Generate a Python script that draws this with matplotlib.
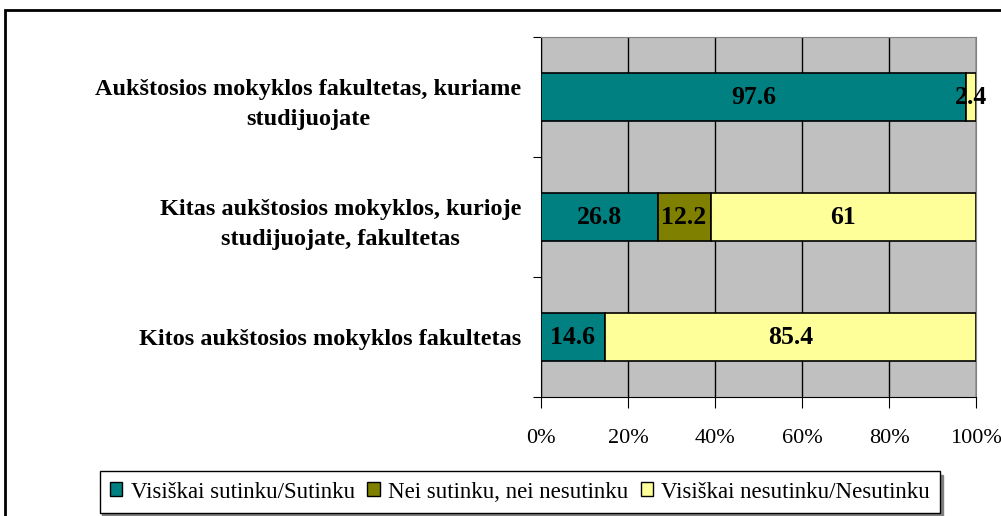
import matplotlib.pyplot as plt
import matplotlib.patches as mpatches
import numpy as np

# Data
categories = ['Aukštosios mokyklos fakultetas, kuriame\nstudijuojate',
              'Kitas aukštosios mokyklos, kurioje\nstudijuojate, fakultetas',
              'Kitos aukštosios mokyklos fakultetas']
agree = [97.6, 26.8, 14.6]
neutral = [0, 12.2, 0]
disagree = [2.4, 61, 85.4]
series_names = ['Visiškai sutinku/Sutinku', 'Nei sutinku, nei nesutinku',
                'Visiškai nesutinku/Nesutinku']
colors = ['#008080', '#808000', '#FFFF99']
xticks = [0, 20, 40, 60, 80, 100]

plt.rcParams['font.family'] = ['Liberation Serif', 'DejaVu Serif']

fig = plt.figure(figsize=(10.01, 5.16), dpi=100)
ax = fig.add_axes([541 / 1001, 119 / 516, 435 / 1001, 360 / 516])
ax.set_facecolor('#C0C0C0')

# figure border (extends past right/bottom edge)
fig.patches.append(mpatches.Rectangle((5 / 1001, -0.1), 1.2, 1 - 10 / 516 + 0.1,
                                      transform=fig.transFigure, fill=False,
                                      edgecolor='black', linewidth=2))

y = np.arange(len(categories))
values = [agree, neutral, disagree]
left = np.zeros(len(categories))
for vals, name, col in zip(values, series_names, colors):
    vals = np.array(vals, dtype=float)
    ax.barh(y, vals, left=left, height=0.4, color=col, edgecolor='black',
            linewidth=1.2, label=name, zorder=3)
    for yi, v, l in zip(y, vals, left):
        if v > 0:
            ax.text(l + v / 2, yi, f'{v:g}', ha='center', va='center',
                    fontsize=18.5, fontweight='bold', zorder=4)
    left += vals

ax.set_xlim(0, 100)
ax.set_ylim(2.5, -0.5)
ax.set_xticks(xticks)
ax.set_xticklabels([f'{t}%' for t in xticks], fontsize=16)
ax.xaxis.grid(True, color='black', linewidth=1, zorder=1)
ax.set_axisbelow(True)

ax.set_yticks([-0.5, 0.5, 1.5, 2.5])
ax.set_yticklabels([])
ax.set_yticks(y, minor=True)
ax.set_yticklabels(categories, minor=True, fontsize=17.5, fontweight='bold',
                   multialignment='center', linespacing=1.6)
ax.tick_params(axis='y', which='minor', length=0, pad=14)
ax.tick_params(axis='y', which='major', length=6, color='black')
ax.tick_params(axis='x', length=8, pad=15)

for s in ['top', 'right']:
    ax.spines[s].set_color('#808080')
ax.spines['left'].set_color('black')
ax.spines['bottom'].set_color('black')

handles = [mpatches.Patch(facecolor=c, edgecolor='black', label=n)
           for c, n in zip(colors, series_names)]
leg = fig.legend(handles=handles, loc='center', bbox_to_anchor=(520 / 1001, 1 - 492 / 516),
                 ncol=3, fontsize=16.5, frameon=True, fancybox=False,
                 shadow={'ox': 2, 'oy': -3, 'color': '#808080', 'alpha': 1},
                 handlelength=0.55, handleheight=0.55, handletextpad=0.35,
                 columnspacing=0.55, borderpad=0.45)
leg.get_frame().set_edgecolor('black')
leg.get_frame().set_linewidth(1)

fig.savefig('out.png', dpi=100)
